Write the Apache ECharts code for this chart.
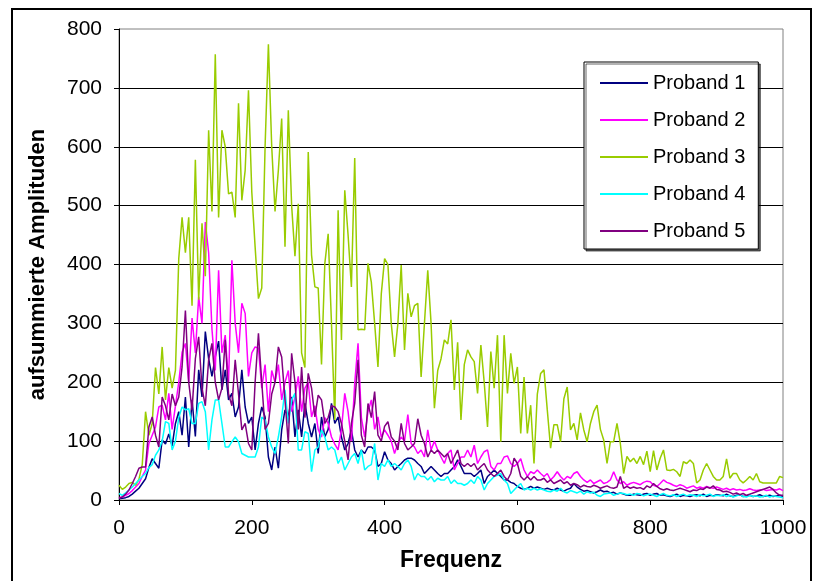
<!DOCTYPE html>
<html><head><meta charset="utf-8">
<script src="https://cdn.jsdelivr.net/npm/echarts@6/dist/echarts.min.js"></script>
<style>html,body{margin:0;padding:0;background:#fff}#c{width:821px;height:581px}</style>
</head><body><div id="c"></div>
<script>
// Frequency step of the digitised samples (x = 0, 5, 10, ... 1000)
const freqStep = 5;
const seriesNames = ['Proband 1', 'Proband 2', 'Proband 3', 'Proband 4', 'Proband 5'];
const yTickValues = [0, 100, 200, 300, 400, 500, 600, 700, 800];
const xTickValues = [0, 200, 400, 600, 800, 1000];

const p1 = [
  2,3,4,6,10,15,20,28,36,55,70,62,54,102,95,112,92,130,150,110,
  175,90,170,108,221,175,286,240,210,243,270,187,221,170,181,141,158,221,158,130,
  141,85,130,158,141,73,51,90,54,119,153,141,175,107,153,107,164,130,107,130,
  79,141,107,120,164,130,141,107,85,96,119,85,73,85,79,90,90,85,57,62,
  82,68,62,51,57,62,68,71,71,68,62,57,45,51,57,51,45,40,45,45,
  51,57,68,57,45,45,45,40,45,51,28,40,45,51,45,40,34,34,30,28,
  23,20,18,20,23,20,22,20,18,20,18,17,20,17,15,18,20,28,22,18,
  15,16,14,12,14,17,14,15,12,13,10,12,10,8,8,10,9,8,10,11,
  8,10,11,8,9,7,6,8,10,6,8,7,6,8,9,7,10,6,8,7,
  9,8,7,10,7,6,8,9,6,7,8,6,7,9,6,7,8,6,7,8,
  6];
const p2 = [
  4,5,8,11,16,22,28,40,51,96,110,124,158,161,136,181,120,160,200,251,
  266,200,309,250,345,300,472,420,290,220,390,250,280,200,407,300,250,334,317,210,
  250,260,258,190,230,150,220,200,230,170,200,220,150,175,210,150,190,200,141,160,
  120,107,140,130,107,95,85,120,181,150,100,198,266,140,107,150,170,120,141,107,
  119,110,100,79,96,107,100,145,96,90,79,85,73,119,85,100,85,73,62,79,
  85,51,62,73,73,85,73,93,62,73,82,85,57,51,62,62,73,75,62,57,
  62,70,51,40,48,45,51,45,40,45,34,40,48,40,34,40,37,45,48,40,
  34,30,34,28,31,34,28,30,34,48,34,28,31,25,28,30,28,26,30,32,
  31,25,23,28,34,30,28,25,23,26,24,20,22,24,20,22,20,23,21,20,
  22,20,18,20,17,19,17,18,16,17,19,17,16,17,18,16,17,18,17,19,
  16];
const p3 = [
  25,18,22,28,30,25,35,60,150,110,130,225,180,260,170,225,190,220,410,480,
  420,480,330,578,340,470,380,628,490,757,480,628,600,520,523,480,674,509,560,696,
  523,430,342,360,600,774,600,490,560,648,430,662,500,414,503,250,225,591,416,362,
  360,230,402,452,300,136,492,272,526,450,362,581,289,290,289,402,370,300,226,350,
  410,400,300,243,300,399,255,351,311,330,334,209,300,390,300,156,220,240,272,265,
  306,187,268,136,230,255,243,235,181,263,200,124,252,190,280,99,280,181,249,198,
  226,113,209,113,161,62,180,215,221,153,88,128,128,99,172,192,119,130,102,148,
  119,99,130,150,161,120,102,62,99,99,130,96,45,74,65,71,62,74,60,83,
  48,84,51,71,85,51,50,52,48,40,65,62,68,62,29,34,51,62,51,40,
  34,34,40,70,37,45,45,34,29,34,40,34,45,31,29,29,29,29,29,40,
  38];
const p4 = [
  11,8,12,17,22,28,34,40,45,55,60,76,85,100,133,130,85,100,140,158,
  153,155,130,130,164,167,150,85,136,170,170,130,90,90,99,107,99,79,76,73,
  73,73,90,141,136,107,90,79,107,141,187,130,170,181,85,85,116,113,48,85,
  90,119,107,85,90,85,62,73,51,62,73,79,62,85,51,57,60,96,34,62,
  57,68,57,62,57,51,62,68,57,34,45,40,40,34,40,31,37,34,34,40,
  28,34,28,28,25,28,34,28,40,34,17,28,34,40,42,45,34,28,11,17,
  23,28,17,20,17,20,17,19,17,15,14,17,15,20,14,12,16,14,12,15,
  10,14,12,13,8,6,10,11,12,8,10,12,11,9,10,8,11,10,7,9,
  10,8,6,9,11,8,7,9,6,8,10,7,9,8,6,9,7,8,10,6,
  8,7,9,6,8,5,7,9,6,5,8,6,7,5,6,8,5,7,6,5,
  4];
const p5 = [
  3,5,10,17,28,40,54,56,56,124,141,110,90,175,160,136,180,160,175,226,
  322,200,153,240,277,190,160,238,266,200,170,190,272,180,160,238,180,119,130,96,
  85,200,283,200,120,130,180,200,260,243,170,96,249,200,120,226,140,215,190,141,
  178,170,130,140,160,158,150,130,100,68,130,164,238,110,90,164,140,184,110,100,
  125,133,107,100,85,130,96,85,90,96,138,110,96,73,85,79,85,79,73,79,
  62,73,85,62,57,62,57,62,51,57,62,51,45,40,45,51,40,34,45,71,
  62,40,34,40,34,40,34,34,37,30,34,28,31,34,28,31,25,28,26,22,
  25,23,22,25,23,20,22,24,21,20,22,40,20,23,20,22,20,21,18,24,
  21,28,23,19,17,19,17,16,18,20,18,16,14,17,16,19,18,22,20,24,
  18,17,14,15,13,10,12,9,11,8,10,12,14,16,18,20,22,18,12,8,
  8];

const seriesValues = [p1, p2, p3, p4, p5];
const seriesColors = ['#000080', '#FF00FF', '#99CC00', '#00FFFF', '#800080'];

const chart = echarts.init(document.getElementById('c'), null, { renderer: 'canvas' });
const font = "'Liberation Sans', Arial, sans-serif";

const option = {
  animation: false,
  backgroundColor: '#ffffff',
  graphic: [{
    type: 'rect', silent: true, z: -10,
    shape: { x: 12, y: 9, width: 799, height: 640 },
    style: { fill: 'none', stroke: '#000', lineWidth: 2 }
  }],
  grid: {
    left: 119, right: 38, top: 29, bottom: 81,
    show: true, borderColor: '#808080', borderWidth: 1, backgroundColor: 'transparent'
  },
  legend: {
    orient: 'vertical',
    left: 584, top: 62,
    padding: [11, 13, 8, 16],
    icon: 'rect',
    itemWidth: 48, itemHeight: 2, itemGap: 17,
    backgroundColor: '#ffffff',
    borderColor: '#000', borderWidth: 1,
    shadowColor: 'rgba(0,0,0,0.6)', shadowOffsetX: 2, shadowOffsetY: 2, shadowBlur: 0,
    textStyle: { fontFamily: font, fontSize: 20, color: '#000' },
    data: seriesNames
  },
  xAxis: {
    type: 'value', min: 0, max: 1000, interval: 200,
    name: 'Frequenz', nameLocation: 'middle', nameGap: 49,
    nameTextStyle: { fontFamily: font, fontWeight: 'bold', fontSize: 23, color: '#000' },
    axisLine: { show: true, onZero: false, lineStyle: { color: '#000', width: 1 } },
    axisTick: { show: true, length: 5, lineStyle: { color: '#000' } },
    axisLabel: {
      fontFamily: font, fontSize: 21, color: '#000', margin: 18,
      formatter: v => xTickValues.includes(v) ? String(v) : ''
    },
    splitLine: { show: false }
  },
  yAxis: {
    type: 'value', min: 0, max: 800, interval: 100,
    name: 'aufsummierte Amplituden', nameLocation: 'middle', nameGap: 70, nameRotate: 90,
    nameTextStyle: { fontFamily: font, fontWeight: 'bold', fontSize: 22, color: '#000' },
    axisLine: { show: true, lineStyle: { color: '#000', width: 1 } },
    axisTick: { show: true, length: 5, lineStyle: { color: '#000' } },
    axisLabel: {
      fontFamily: font, fontSize: 21, color: '#000', margin: 17,
      formatter: v => yTickValues.includes(v) ? String(v) : ''
    },
    splitLine: { show: true, showMaxLine: false, lineStyle: { color: '#000', width: 1 } }
  },
  series: seriesNames.map((name, k) => ({
    name: name,
    type: 'line',
    symbol: 'none',
    showSymbol: false,
    smooth: false,
    lineStyle: { color: seriesColors[k], width: 1.5 },
    itemStyle: { color: seriesColors[k] },
    data: seriesValues[k].map((v, i) => [i * freqStep, v])
  }))
};
chart.setOption(option);
</script>
</body></html>
